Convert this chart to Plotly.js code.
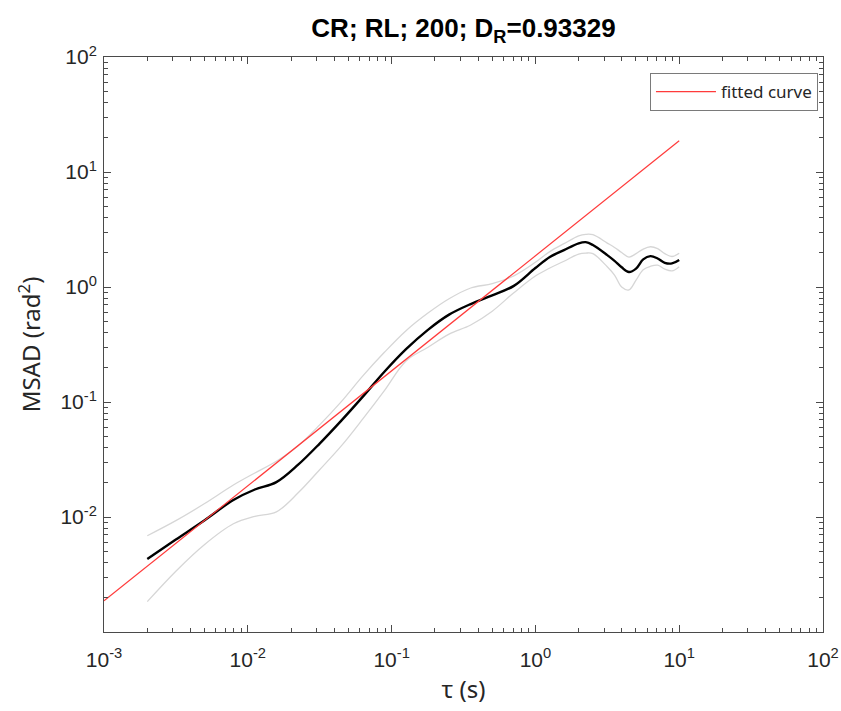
<!DOCTYPE html>
<html><head><meta charset="utf-8">
<script src="https://cdn.plot.ly/plotly-3.0.1.min.js"></script>
<style>html,body{margin:0;padding:0;background:#fff}</style>
</head><body>
<div id="chart" style="width:841px;height:711px"></div>
<script>
// lag time tau (s)
const tau = [0.002, 0.00316, 0.00501, 0.00794, 0.0112, 0.0158, 0.0224, 0.0316, 0.0447, 0.0631,
  0.0891, 0.126, 0.178, 0.251, 0.355, 0.501, 0.708, 1.0, 1.26, 1.58, 2.0, 2.24, 2.51, 3.16, 3.55,
  3.98, 4.47, 5.01, 5.62, 6.31, 7.08, 7.94, 8.91, 10.0];
// mean MSAD (rad^2)
const msadMean = [0.00432, 0.00637, 0.00938, 0.01406, 0.01734, 0.0201, 0.0285, 0.0435, 0.0689, 0.1114,
  0.1832, 0.288, 0.422, 0.575, 0.711, 0.845, 1.023, 1.462, 1.82, 2.094, 2.399, 2.455, 2.317, 1.892, 1.687,
  1.483, 1.349, 1.445, 1.738, 1.854, 1.77, 1.622, 1.603, 1.718];
// upper envelope
const msadUpper = [0.00687, 0.00929, 0.01309, 0.01897, 0.02415, 0.03055, 0.04169, 0.06324, 0.1007, 0.1687,
  0.2704, 0.4169, 0.5902, 0.79, 0.98, 1.07, 1.25, 1.641, 2.032, 2.382, 2.786, 2.871, 2.851, 2.41, 2.208,
  1.995, 1.82, 1.95, 2.138, 2.239, 2.158, 1.95, 1.841, 1.963];
// lower envelope
const msadLower = [0.001837, 0.00338, 0.00577, 0.00873, 0.01012, 0.01109, 0.01622, 0.02576, 0.0415, 0.07129,
  0.1256, 0.2275, 0.2979, 0.389, 0.4677, 0.6166, 0.8913, 1.245, 1.462, 1.675, 1.936, 1.972, 1.95, 1.5, 1.27,
  1.0, 0.944, 1.148, 1.413, 1.514, 1.549, 1.429, 1.38, 1.503];
// fitted curve
const fitTau = [0.001, 10];
const fitMsad = [0.001867, 18.67];

const xTickVals = [0.001, 0.01, 0.1, 1, 10, 100];
const xTickText = ['10<sup>-3</sup>', '10<sup>-2</sup>', '10<sup>-1</sup>', '10<sup>0</sup>', '10<sup>1</sup>', '10<sup>2</sup>'];
const yTickVals = [0.01, 0.1, 1, 10, 100];
const yTickText = ['10<sup>-2</sup>', '10<sup>-1</sup>', '10<sup>0</sup>', '10<sup>1</sup>', '10<sup>2</sup>'];
const decades = [0.001, 0.01, 0.1, 1, 10];
const minorDigits = [2, 3, 4, 5, 6, 7, 8, 9];
const minorTickVals = [];
decades.forEach(d => minorDigits.forEach(m => minorTickVals.push(+(d * m).toPrecision(3))));

const gray = '#d6d6d6';
const traces = [
  {x: tau, y: msadUpper, mode: 'lines', line: {color: gray, width: 1.3, shape: 'spline'}, showlegend: false, hoverinfo: 'skip'},
  {x: tau, y: msadLower, mode: 'lines', line: {color: gray, width: 1.3, shape: 'spline'}, showlegend: false, hoverinfo: 'skip'},
  {x: tau, y: msadMean, mode: 'lines', line: {color: '#000000', width: 2.4, shape: 'spline'}, showlegend: false},
  {x: fitTau, y: fitMsad, mode: 'lines', name: 'fitted curve', line: {color: '#ff3b3b', width: 1.2},
   xaxis: 'x2', yaxis: 'y2'}
];

const axCol = '#4a4a4a';
const tickFont = {family: 'Liberation Sans, Arial, sans-serif', size: 21, color: '#262626'};
const minorAxis = {
  type: 'log', range: [-3, 2], autorange: false,
  tickmode: 'array', tickvals: minorTickVals, showticklabels: false,
  ticks: 'inside', ticklen: 4, tickwidth: 1, tickcolor: axCol,
  showline: true, linecolor: axCol, linewidth: 1, mirror: 'ticks',
  showgrid: false, zeroline: false
};
const layout = {
  width: 841, height: 711,
  margin: {l: 104, r: 18, t: 57, b: 79},
  paper_bgcolor: '#ffffff', plot_bgcolor: '#ffffff',
  title: {
    text: '<b>CR; RL; 200; D<sub>R</sub>=0.93329</b>',
    font: {family: 'Liberation Sans, Arial, sans-serif', size: 26, color: '#000000'},
    x: 0.5, xref: 'paper', xanchor: 'center', y: 1 - 28/711, yref: 'container', yanchor: 'middle'
  },
  xaxis: {
    type: 'log', range: [-3, 2], autorange: false,
    tickmode: 'array', tickvals: xTickVals, ticktext: xTickText,
    ticks: 'inside', ticklen: 7, tickwidth: 1, tickcolor: axCol,
    showline: true, linecolor: axCol, linewidth: 1, mirror: 'ticks',
    showgrid: false, zeroline: false,
    tickfont: tickFont, ticklabelstandoff: 9,
    title: {text: 'τ (s)', font: {family: 'Noto Sans, sans-serif', size: 24, color: '#262626'}, standoff: 10}
  },
  yaxis: {
    type: 'log', range: [-3, 2], autorange: false,
    tickmode: 'array', tickvals: yTickVals, ticktext: yTickText,
    ticks: 'inside', ticklen: 7, tickwidth: 1, tickcolor: axCol,
    showline: true, linecolor: axCol, linewidth: 1, mirror: 'ticks',
    showgrid: false, zeroline: false,
    tickfont: tickFont, ticklabelstandoff: 2,
    title: {text: 'MSAD (rad<sup>2</sup>)', font: {family: 'Noto Sans, sans-serif', size: 24, color: '#262626'}, standoff: 12}
  },
  xaxis2: Object.assign({overlaying: 'x', anchor: 'y2', side: 'bottom'}, minorAxis),
  yaxis2: Object.assign({overlaying: 'y', anchor: 'x2', side: 'left'}, minorAxis),
  legend: {
    x: 0.993, y: 0.972, xanchor: 'right', yanchor: 'top',
    bgcolor: '#ffffff', bordercolor: '#7a7a7a', borderwidth: 1,
    font: {family: 'Noto Sans, sans-serif', size: 17, color: '#262626'},
    itemwidth: 60
  },
  showlegend: true
};

Plotly.newPlot('chart', traces, layout, {displayModeBar: false, staticPlot: true});
</script>
</body></html>
